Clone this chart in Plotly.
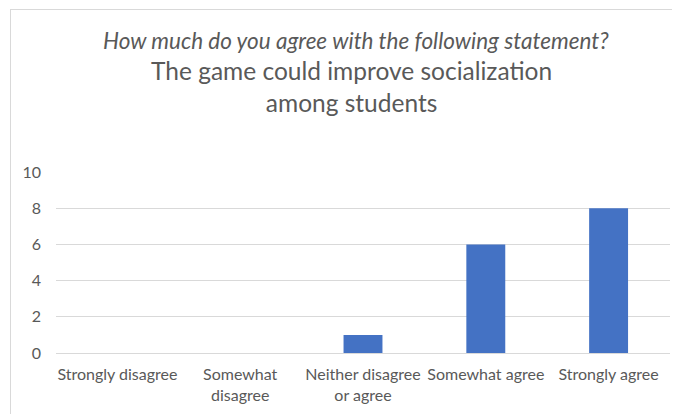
import plotly.graph_objects as go

categories = ["Strongly disagree", "Somewhat<br>disagree", "Neither disagree<br>or agree",
              "Somewhat agree", "Strongly agree"]
counts = [0, 0, 1, 6, 8]
y_ticks = [0, 2, 4, 6, 8, 10]

subtitle = "How much do you agree with the following statement?"
title = "The game could improve socialization<br>among students"

# page body adds an 8px offset; work in screen pixels and shift
OFF = 8
W, H = 680 - OFF, 414 - OFF
L, R, T, B = 56 - OFF, 10, 172 - OFF, 61
pw, ph = W - L - R, H - T - B

def px(x):
    return (x - OFF - L) / pw

def py(y):
    return (H - B - (y - OFF)) / ph

txt = "#595959"
fnt = "Lato, Carlito, 'Open Sans', sans-serif"

fig = go.Figure(go.Bar(x=categories, y=counts, marker_color="#4472C4",
                       marker_line_width=0))

fig.update_layout(
    width=W, height=H,
    margin=dict(l=L, r=R, t=T, b=B),
    paper_bgcolor="white", plot_bgcolor="white",
    bargap=0.683,
    showlegend=False,
    font=dict(family=fnt, color=txt, size=16),
    xaxis=dict(showgrid=False, showline=False, ticks="", tickfont=dict(size=16, color=txt),
               ticklabelstandoff=10),
    yaxis=dict(range=[0, 10], tickvals=y_ticks, showgrid=True, gridcolor="#D9D9D9",
               gridwidth=1, zeroline=True, zerolinecolor="#D9D9D9", zerolinewidth=1,
               showline=False, ticks="", tickfont=dict(size=16, color=txt),
               ticklabelstandoff=14),
    annotations=[
        dict(text="<i>" + subtitle + "</i>", x=px(356), y=py(40), xref="paper", yref="paper",
             showarrow=False, font=dict(size=22.5, color=txt, family=fnt),
             xanchor="center", yanchor="middle"),
        dict(text=title, x=px(351), y=py(86), xref="paper", yref="paper",
             showarrow=False, font=dict(size=24.5, color=txt, family=fnt),
             xanchor="center", yanchor="middle"),
    ],
    shapes=[
        dict(type="line", xref="paper", yref="paper", x0=px(10), x1=px(700), y0=py(9.5), y1=py(9.5),
             line=dict(color="#D9D9D9", width=1)),
        dict(type="line", xref="paper", yref="paper", x0=px(10.5), x1=px(10.5), y0=py(9.5), y1=py(430),
             line=dict(color="#D9D9D9", width=1)),
    ],
)

fig.write_html("out.html")
